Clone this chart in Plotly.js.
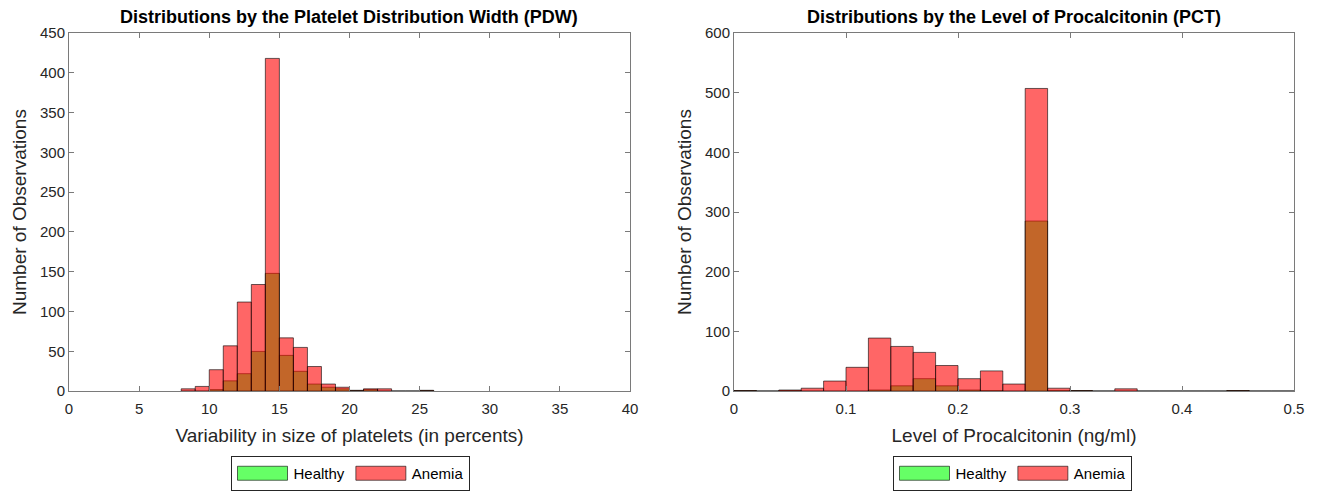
<!DOCTYPE html>
<html>
<head>
<meta charset="utf-8">
<script src="https://cdn.plot.ly/plotly-3.0.1.min.js"></script>
<style>html,body{margin:0;padding:0;background:#fff;}#chart{width:1322px;height:491px;}</style>
</head>
<body>
<div id="chart"></div>
<script>
// ---- PDW histogram (bin width 1, left edges) ----
const pdwEdges = [8,9,10,11,12,13,14,15,16,17,18,19,20,21,22,23,24,25];
const pdwHealthy = [0,0,2,13,22,50,148,45,25,9,5,3,1,2,0,0,0,1];
const pdwAnemia  = [3,6,27,57,112,134,418,67,55,31,9,5,1,3,3,0,0,1];
const pdwBinWidth = 1;

// ---- PCT histogram (bin width 0.02, left edges) ----
const pctEdges = [0,0.02,0.04,0.06,0.08,0.10,0.12,0.14,0.16,0.18,0.20,0.22,0.24,0.26,0.28,0.30,0.32,0.34,0.36,0.38,0.40,0.42,0.44,0.46,0.48];
const pctHealthy = [1,0,1,0,0,0,2,9,21,9,2,1,0,285,1,1,0,0,0,0,0,0,1,0,0];
const pctAnemia  = [1,0,2,5,17,40,89,75,65,43,21,34,12,507,5,1,0,4,0,0,0,0,1,0,0];
const pctBinWidth = 0.02;

const seriesNames = ['Healthy','Anemia'];
const titles = ['Distributions by the Platelet Distribution Width (PDW)','Distributions by the Level of Procalcitonin (PCT)'];
const xTitles = ['Variability in size of platelets (in percents)','Level of Procalcitonin (ng/ml)'];
const yTitle = 'Number of Observations';

const FONT = 'Liberation Sans, Arial, Helvetica, sans-serif';
const TXT = '#262626';
const AX = '#7a7a7a';
const greenFill = 'rgba(0,255,0,0.6)';
const redFill = 'rgba(255,0,0,0.6)';
const edge = {color:'#000000', width:0.6};

function bars(x, y, w, name, fill, xa, ya, leg){
  return {type:'bar', x:x, y:y, width:w, offset:0, name:name,
    marker:{color:fill, line:edge}, xaxis:xa, yaxis:ya, legend:leg, showlegend:true,
    hoverinfo:'x+y+name'};
}

const data = [
  bars(pdwEdges, pdwHealthy, pdwBinWidth, seriesNames[0], greenFill, 'x','y','legend'),
  bars(pdwEdges, pdwAnemia, pdwBinWidth, seriesNames[1], redFill, 'x','y','legend'),
  bars(pctEdges, pctHealthy, pctBinWidth, seriesNames[0], greenFill, 'x2','y2','legend2'),
  bars(pctEdges, pctAnemia, pctBinWidth, seriesNames[1], redFill, 'x2','y2','legend2')
];

const W = 1322, H = 491;
function axisCommon(){
  return {showline:true, linecolor:AX, linewidth:1, mirror:'ticks', ticks:'inside', ticklen:5,
    tickcolor:AX, showgrid:false, zeroline:false, tickfont:{family:FONT,size:15,color:TXT}};
}
const leftDom = [69/W, 630/W], rightDom = [734/W, 1294/W];
const yDom = [(H-392)/H, (H-33)/H];
const axTitleFont = {family:FONT,size:19,color:TXT};

const xa1 = Object.assign(axisCommon(), {domain:leftDom, anchor:'y', range:[0,40], tickvals:[0,5,10,15,20,25,30,35,40],
  ticklabelstandoff:4, title:{text:xTitles[0], font:axTitleFont, standoff:12}});
const ya1 = Object.assign(axisCommon(), {domain:yDom, anchor:'x', range:[0,450], tickvals:[0,50,100,150,200,250,300,350,400,450],
  title:{text:yTitle, font:axTitleFont, standoff:8}});
const xa2 = Object.assign(axisCommon(), {domain:rightDom, anchor:'y2', range:[0,0.5], tickvals:[0,0.1,0.2,0.3,0.4,0.5],
  ticklabelstandoff:4, title:{text:xTitles[1], font:axTitleFont, standoff:12}});
const ya2 = Object.assign(axisCommon(), {domain:yDom, anchor:'x2', range:[0,600], tickvals:[0,100,200,300,400,500,600],
  title:{text:yTitle, font:axTitleFont, standoff:8}});

function legendAt(cx){
  return {orientation:'h', x:cx/W, xanchor:'center', y:(H-474)/H, yanchor:'middle',
    bgcolor:'#ffffff', bordercolor:'#262626', borderwidth:1, font:{family:FONT,size:15,color:'#000'},
    itemwidth:52, traceorder:'normal', tracegroupgap:0};
}

const layout = {
  width:W, height:H, margin:{l:0,r:0,t:0,b:0}, paper_bgcolor:'#fff', plot_bgcolor:'#fff',
  barmode:'overlay', bargap:0,
  font:{family:FONT, color:TXT},
  xaxis:xa1, yaxis:ya1, xaxis2:xa2, yaxis2:ya2,
  legend:legendAt(350), legend2:legendAt(1012),
  annotations:[
    {text:'<b>'+titles[0]+'</b>', xref:'paper', yref:'paper', x:(leftDom[0]+leftDom[1])/2, y:(H-17)/H, xanchor:'center', yanchor:'middle', showarrow:false, font:{family:FONT,size:18,color:'#000'}},
    {text:'<b>'+titles[1]+'</b>', xref:'paper', yref:'paper', x:(rightDom[0]+rightDom[1])/2, y:(H-17)/H, xanchor:'center', yanchor:'middle', showarrow:false, font:{family:FONT,size:18,color:'#000'}}
  ]
};

Plotly.newPlot('chart', data, layout, {displayModeBar:false, staticPlot:true}).then(function(gd){
  // widen the legend swatches to MATLAB-style rectangles
  gd.querySelectorAll('.legendpoints path').forEach(function(p){
    p.setAttribute('d','M25,7H-25V-7H25Z');
  });
});
</script>
</body>
</html>
